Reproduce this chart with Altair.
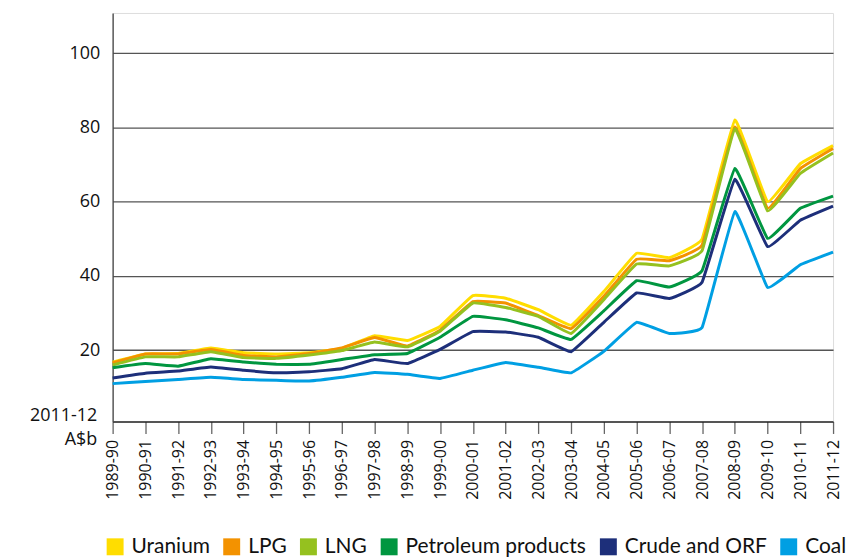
import altair as alt
import pandas as pd

years = ["1989-90", "1990-91", "1991-92", "1992-93", "1993-94", "1994-95", "1995-96",
         "1996-97", "1997-98", "1998-99", "1999-00", "2000-01", "2001-02", "2002-03",
         "2003-04", "2004-05", "2005-06", "2006-07", "2007-08", "2008-09", "2009-10",
         "2010-11", "2011-12"]

uranium = [16.8, 19.0, 19.1, 20.6, 19.3, 19.0, 19.3, 20.5, 23.9, 22.6, 26.4, 34.7, 34.0,
           30.9, 26.7, 35.8, 46.1, 44.9, 49.9, 82.0, 60.0, 70.2, 75.1]
lpg = [16.6, 19.0, 19.0, 20.2, 18.6, 18.2, 19.1, 20.6, 23.4, 21.1, 25.4, 33.1, 32.7,
       29.3, 25.8, 34.5, 44.5, 44.1, 48.3, 80.1, 58.2, 68.9, 74.3]
lng = [16.0, 18.2, 18.2, 19.6, 18.0, 17.8, 18.7, 19.9, 22.2, 20.9, 25.1, 32.7, 31.5,
       29.1, 24.5, 33.6, 43.2, 42.7, 46.8, 79.6, 57.5, 67.6, 73.1]
petroleum = [15.3, 16.4, 15.7, 17.7, 16.8, 16.2, 16.2, 17.5, 18.8, 19.1, 23.5, 29.1, 28.2,
             26.0, 22.9, 30.6, 38.7, 37.0, 41.4, 68.9, 50.1, 58.2, 61.5]
crude = [12.5, 13.8, 14.4, 15.5, 14.6, 13.9, 14.2, 15.0, 17.5, 16.4, 20.2, 25.0, 24.9,
         23.5, 19.6, 27.5, 35.4, 33.9, 38.3, 66.0, 47.9, 55.0, 58.8]
coal = [11.0, 11.6, 12.1, 12.7, 12.1, 11.9, 11.7, 12.7, 14.0, 13.5, 12.4, 14.6, 16.7,
        15.4, 13.9, 19.7, 27.5, 24.5, 26.1, 57.3, 36.9, 43.0, 46.4]

series_names = ["Uranium", "LPG", "LNG", "Petroleum products", "Crude and ORF", "Coal"]
series_values = [uranium, lpg, lng, petroleum, crude, coal]
colors = ["#FFDD00", "#F39200", "#95C11F", "#009640", "#1D2F7A", "#009FE3"]

rows = []
for name, vals in zip(series_names, series_values):
    for yr, v in zip(years, vals):
        rows.append({"year": yr, "series": name, "value": v})
df = pd.DataFrame(rows)

FONT = "Open Sans"
LFONT = "Lato"

chart = alt.Chart(df).mark_line(strokeWidth=3, interpolate="cardinal", tension=0.75).encode(
    x=alt.X("year:O", sort=years,
            scale=alt.Scale(type="point", padding=0),
            axis=alt.Axis(title=None, labelAngle=270, labelAlign="right", labelBaseline="middle",
                          labelFontSize=16, labelFont=FONT, labelColor="#111",
                          tickSize=12, tickColor="#666", tickWidth=1.3, labelPadding=6,
                          domainColor="#222", domainWidth=1.3, grid=False)),
    y=alt.Y("value:Q",
            scale=alt.Scale(domain=[0.8, 110.8], nice=False, zero=False),
            axis=alt.Axis(values=[20, 40, 60, 80, 100], ticks=False, labelPadding=13,
                          labelFontSize=18, labelFont=FONT, labelColor="#111",
                          domainColor="#444", domainWidth=1.3,
                          grid=True, gridColor="#555", gridWidth=1.3,
                          title=["2011-12", "A$b"], titleAngle=0, titleAlign="right",
                          titleBaseline="alphabetic", titleX=-16, titleY=409,
                          titleFontSize=18, titleFont=FONT, titleFontWeight="normal",
                          titleLineHeight=24, titleColor="#111")),
    color=alt.Color("series:N", sort=series_names,
                    scale=alt.Scale(domain=series_names, range=colors),
                    legend=alt.Legend(title=None, orient="none", legendX=-8, legendY=525,
                                      direction="horizontal", symbolType="square",
                                      symbolSize=4, symbolStrokeWidth=15, symbolOpacity=1,
                                      labelFontSize=21, labelFont=LFONT, labelColor="#111",
                                      labelOffset=6, columnPadding=-10, labelLimit=300)),
).properties(
    width=723, height=410,
    autosize=alt.AutoSizeParams(type="none"),
    padding={"left": 105, "top": 4, "right": 16, "bottom": 136},
).configure_view(stroke=None).configure(background="white")

chart.save("out.html", embed_options={"renderer": "svg", "actions": False})
